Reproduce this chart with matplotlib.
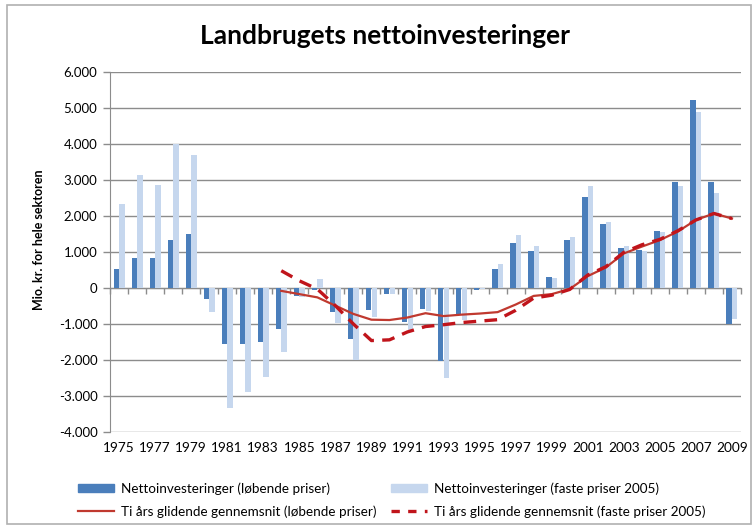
import matplotlib
matplotlib.use("Agg")
import matplotlib.pyplot as plt
import matplotlib.patches as mpatches
import matplotlib.lines as mlines
from matplotlib.ticker import FuncFormatter
import numpy as np

plt.rcParams['font.family'] = ['Lato', 'DejaVu Sans']

years = list(range(1975, 2010))
lobende = [530, 840, 840, 1320, 1510,
           -310, -1560, -1560, -1500, -1130,
           -220, -60, -670, -1410, -620,
           -180, -950, -570, -2020, -760,
           -50, 540, 1250, 1020, 300,
           1320, 2540, 1780, 1100, 1060,
           1590, 2940, 5210, 2940, -1000]
faste = [2320, 3130, 2870, 4000, 3690,
         -680, -3330, -2900, -2480, -1780,
         -260, 250, -960, -2000, -800,
         -160, -1200, -640, -2510, -900,
         -40, 670, 1480, 1180, 280,
         1430, 2840, 1830, 1160, 1020,
         1550, 2840, 4880, 2650, -860]
ma_years = list(range(1984, 2010))
ma_lobende = [-80, -170, -260, -490, -720, -880, -890, -820, -700, -780,
              -740, -710, -670, -460, -220, -170, -30, 330, 570, 960,
              1150, 1330, 1570, 1890, 2070, 1930]
ma_faste = [480, 200, -30, -490, -1000, -1460, -1440, -1220, -1070, -1020,
            -960, -920, -880, -620, -280, -200, -40, 360, 590, 990,
            1200, 1350, 1590, 1890, 2070, 1930]

title = "Landbrugets nettoinvesteringer"
ylabel = "Mio. kr. for hele sektoren"
lbl_dark = "Nettoinvesteringer (løbende priser)"
lbl_light = "Nettoinvesteringer (faste priser 2005)"
lbl_ma_l = "Ti års glidende gennemsnit (løbende priser)"
lbl_ma_f = "Ti års glidende gennemsnit (faste priser 2005)"

c_dark = "#4A7EBB"
c_light = "#C6D7EE"
c_red = "#C0392F"
c_red2 = "#C0141B"
c_grid = "#8C8C8C"

fig = plt.figure(figsize=(7.54, 5.29), dpi=100)
fig.patch.set_facecolor("white")
ax = fig.add_axes([110/754, 1-432/529, (741-110)/754, (432-72)/529])

x = np.arange(len(years))
xm = np.array([years.index(y) for y in ma_years])
w = 0.3
ax.bar(x - 0.155, lobende, width=w, color=c_dark, zorder=2)
ax.bar(x + 0.155, faste, width=w, color=c_light, zorder=2)
ax.plot(xm, ma_lobende, color=c_red, lw=1.6, zorder=3, solid_joinstyle='round')
ax.plot(xm, ma_faste, color=c_red2, lw=2.4, ls=(0, (3.8, 2.5)), zorder=3)

ax.set_xlim(-0.5, len(years) - 0.5)
ax.set_ylim(-4000, 6000)
ax.set_yticks(np.arange(-4000, 6001, 1000))
ax.yaxis.set_major_formatter(FuncFormatter(lambda v, p: f"{int(v):,}".replace(",", ".")))
ax.grid(axis='y', color=c_grid, lw=1.0, zorder=0)
ax.set_axisbelow(True)
for s in ['top', 'right']:
    ax.spines[s].set_visible(False)
ax.spines['left'].set_color(c_grid)
ax.spines['bottom'].set_color(c_grid)
ax.spines['bottom'].set_position(('data', 0))
ax.spines['bottom'].set_zorder(1)
ax.tick_params(axis='y', colors=c_grid, length=5, width=1, labelsize=9.5, labelcolor='black', pad=4)
ax.set_xticks(np.arange(-0.5, len(years), 1.0))
ax.tick_params(axis='x', colors=c_grid, length=4, width=1, labelbottom=False, direction='out')

sec = ax.secondary_xaxis(0.0)
sec.set_xticks(x[::2])
sec.set_xticklabels([str(y) for y in years[::2]])
sec.tick_params(length=0, labelsize=9.8, pad=7)
sec.spines['bottom'].set_visible(False)

ax.set_ylabel(ylabel, fontsize=9, fontweight='bold')
ax.yaxis.set_label_coords(-0.103, 0.533)

fig.text(0.511, 1-36/529, title, ha='center', va='center', fontsize=19, fontweight='bold')

h1 = mpatches.Patch(color=c_dark)
h2 = mpatches.Patch(color=c_light)
h3 = mlines.Line2D([], [], color=c_red, lw=1.6)
h4 = mlines.Line2D([], [], color=c_red2, lw=2.4, ls=(0, (2.5, 2.5)))
leg = fig.legend([h1, h3, h2, h4], [lbl_dark, lbl_ma_l, lbl_light, lbl_ma_f],
                 ncol=2, loc='upper left', bbox_to_anchor=(66/754, 1-470/529),
                 frameon=False, fontsize=9.7, handlelength=2.65, handleheight=0.6,
                 handletextpad=0.55, columnspacing=1.05, labelspacing=0.78)

fig.add_artist(mpatches.Rectangle((7/754, 1-524/529), (751-7)/754, (524-5)/529,
                                  transform=fig.transFigure, fill=False,
                                  edgecolor="#B0B0B0", lw=1.2))

fig.savefig("out.png", dpi=100)
